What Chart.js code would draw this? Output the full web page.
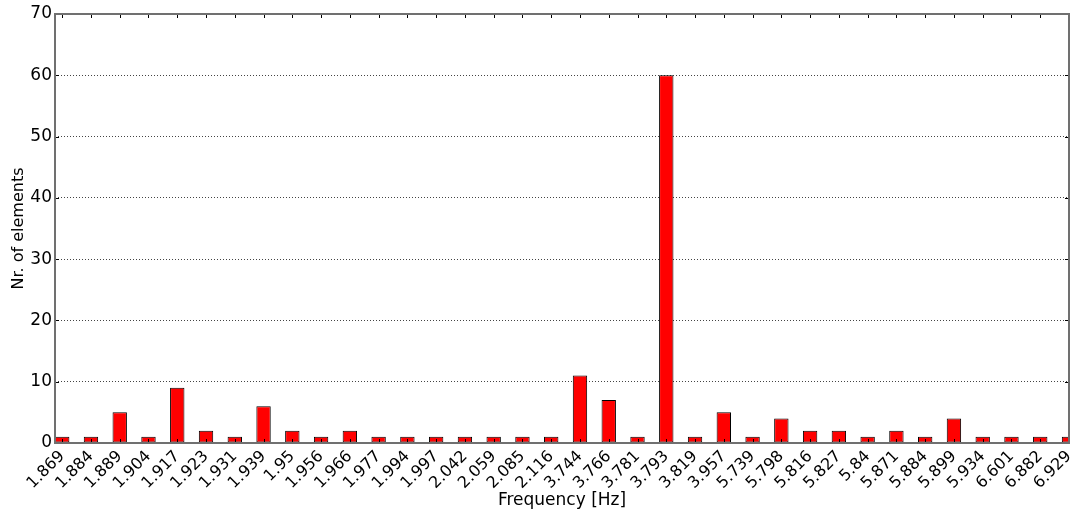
<!DOCTYPE html>
<html>
<head>
<meta charset="utf-8">
<script src="https://cdn.jsdelivr.net/npm/chart.js@4.4.0/dist/chart.umd.min.js"></script>
<style>
  html, body { margin: 0; padding: 0; background: #fff; }
  #wrap { width: 1070px; height: 514px; }
</style>
</head>
<body>
<div id="wrap"><canvas id="freqChart"></canvas></div>
<script>
const frequencies = ['1.869', '1.884', '1.889', '1.904', '1.917', '1.923', '1.931', '1.939', '1.95',
    '1.956', '1.966', '1.977', '1.994', '1.997', '2.042', '2.059', '2.085', '2.116', '3.744', '3.766',
    '3.781', '3.793', '3.819', '3.957', '5.739', '5.798', '5.816', '5.827', '5.84', '5.871', '5.884',
    '5.899', '5.934', '6.601', '6.882', '6.929'];
const counts = [1, 1, 5, 1, 9, 2, 1, 6, 2, 1, 2, 1, 1, 1, 1, 1, 1, 1, 11, 7, 1, 60, 1, 5, 1, 4, 2, 2, 1, 2, 1, 4, 1, 1, 1, 1];
const yTicks = [0, 10, 20, 30, 40, 50, 60, 70];

const FONT = 'DejaVu Sans';

// spines plus inward tick marks on all four sides
const frameTicks = {
    id: 'frameTicks',
    afterDatasetsDraw(chart) {
        const { ctx, chartArea: a, scales: { x, y } } = chart;
        ctx.save();
        ctx.strokeStyle = '#000';
        ctx.lineWidth = 1;
        ctx.beginPath();
        frequencies.forEach((_, i) => {
            const px = Math.round(x.getPixelForValue(i)) + 0.5;
            ctx.moveTo(px, a.bottom);
            ctx.lineTo(px, a.bottom - 4);
            ctx.moveTo(px, a.top);
            ctx.lineTo(px, a.top + 4);
        });
        yTicks.forEach(v => {
            const py = Math.round(y.getPixelForValue(v)) + 0.5;
            ctx.moveTo(a.left, py);
            ctx.lineTo(a.left + 4, py);
            ctx.moveTo(a.right, py);
            ctx.lineTo(a.right - 4, py);
        });
        ctx.stroke();
        ctx.strokeStyle = '#707070';
        ctx.lineWidth = 2;
        ctx.strokeRect(a.left, a.top, a.right - a.left, a.bottom - a.top);
        ctx.restore();
    }
};

const ctx = document.getElementById('freqChart').getContext('2d');
new Chart(ctx, {
    type: 'bar',
    data: {
        datasets: [{
            data: counts.map((c, i) => ({ x: i, y: c })),
            backgroundColor: '#ff0000',
            borderColor: '#000',
            borderWidth: 1,
            borderSkipped: false,
            barPercentage: 0.5,
            categoryPercentage: 1,
            clip: 0
        }]
    },
    options: {
        responsive: true,
        maintainAspectRatio: false,
        animation: false,
        layout: { padding: { top: 14, right: 1, left: 0, bottom: 0 } },
        plugins: { legend: { display: false }, tooltip: { enabled: false } },
        scales: {
            x: {
                type: 'linear',
                offset: false,
                min: -0.25,
                max: 35,
                afterBuildTicks: s => { s.ticks = frequencies.map((_, i) => ({ value: i })); },
                afterFit: s => {
                    s.height = 71;
                    s.paddingLeft = 0;
                    s.paddingRight = 0;
                },
                grid: { display: false, drawTicks: false },
                border: { display: false },
                ticks: {
                    autoSkip: false,
                    maxRotation: 45,
                    minRotation: 45,
                    padding: 4,
                    color: '#000',
                    font: { family: FONT, size: 16 },
                    callback: v => frequencies[v]
                },
                title: {
                    display: true,
                    text: 'Frequency [Hz]',
                    color: '#000',
                    font: { family: FONT, size: 17 },
                    padding: { top: 0, bottom: 3 }
                }
            },
            y: {
                min: 0,
                max: 70,
                afterFit: s => { s.width = 55; },
                afterBuildTicks: s => { s.ticks = yTicks.map(v => ({ value: v })); },
                grid: {
                    color: '#444',
                    lineWidth: 1,
                    drawTicks: false
                },
                border: { display: false, dash: [1, 2] },
                ticks: {
                    padding: 3,
                    color: '#000',
                    font: { family: FONT, size: 17 }
                },
                title: {
                    display: true,
                    text: 'Nr. of elements',
                    color: '#000',
                    font: { family: FONT, size: 16 },
                    padding: { top: 9, bottom: 0 }
                }
            }
        }
    },
    plugins: [frameTicks]
});
</script>
</body>
</html>
